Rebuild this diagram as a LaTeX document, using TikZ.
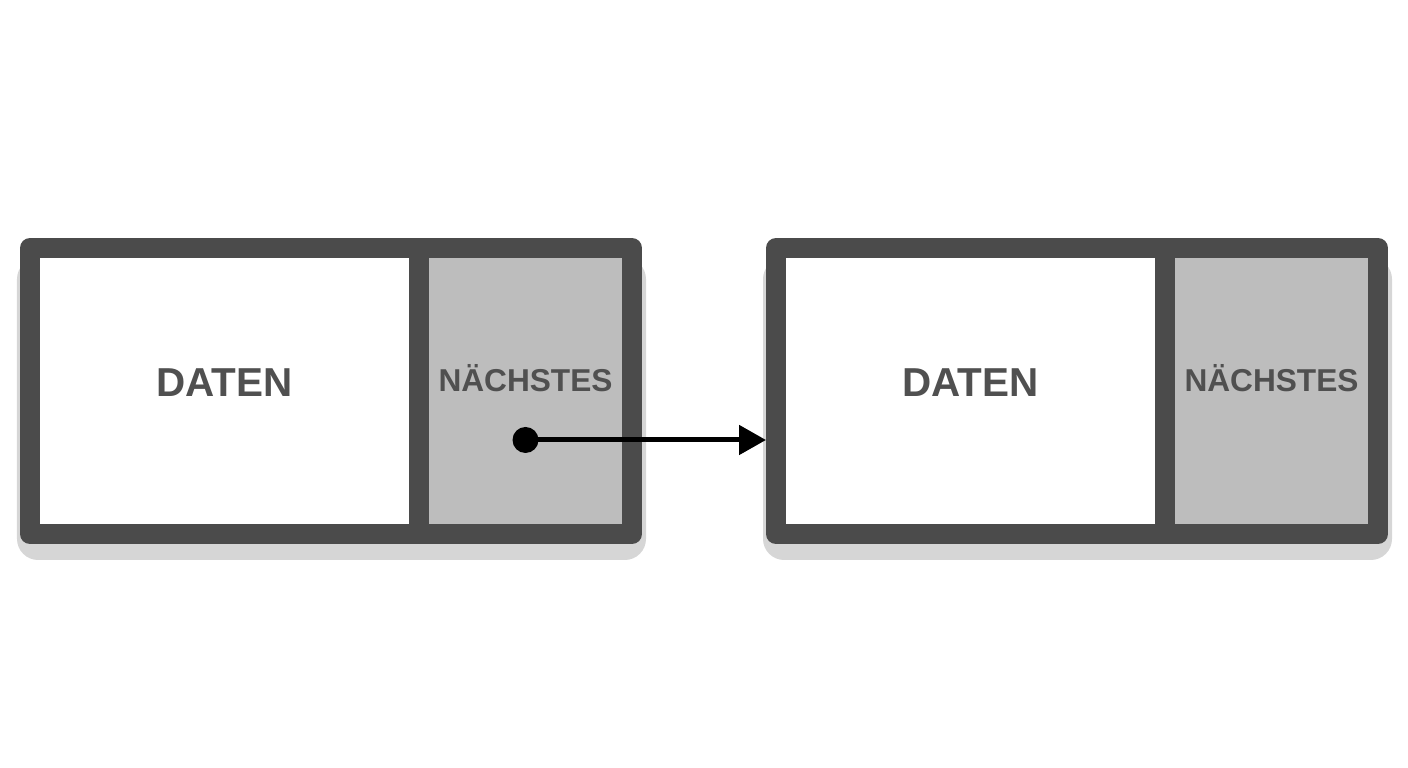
\documentclass[tikz,border=0pt]{standalone}
\usepackage{fontspec}
\setmainfont{Liberation Sans}
\usepackage{tikz}
\usetikzlibrary{matrix,positioning,arrows.meta,backgrounds}
\definecolor{rahmen}{HTML}{4B4B4B}
\definecolor{zeigerfeld}{HTML}{BDBDBD}
\definecolor{schrift}{HTML}{505050}
\definecolor{schatten}{HTML}{D6D6D6}
\tikzstyle{datenfeld} = [minimum width=3.89cm,text depth=1.6mm,fill=white,font=\bfseries\fontsize{11.5}{12}\selectfont]
\tikzstyle{naechstesfeld} = [minimum width=2.13cm,text depth=2.6mm,fill=zeigerfeld,font=\bfseries\fontsize{9}{10}\selectfont]
\tikzstyle{lblock} = [matrix of nodes,ampersand replacement=\&,inner sep=0pt,outer sep=0pt,column sep=0pt,
    column 1/.style={nodes=datenfeld},column 2/.style={nodes=naechstesfeld},nodes={
    outer sep=0pt,inner sep=0pt,anchor=center,minimum height=2.86cm,text=schrift
}]
\tikzstyle{zeiger} = [circle,fill=black,inner sep=0pt,minimum size=0.26cm]
\tikzstyle{zeigerpfeil} = [line width=0.05cm,-{Triangle[length=0.27cm,width=0.29cm]},shorten >=0.1cm]
\newcommand{\lblocktext}[2]{
    {#1} \& {#2} \\
}
\newcommand{\lblockoutline}[1]{
    \begin{scope}[on background layer]
        \fill[schatten,rounded corners=6pt] ([xshift=-0.13cm,yshift=-0.1cm]#1-1-1.north west) rectangle ([xshift=0.14cm,yshift=-0.26cm]#1-1-2.south east);
    \end{scope}
    \draw[rahmen,line width=0.2cm,line join=round] (#1-1-1.north west) rectangle (#1-1-2.south east);
    \draw[rahmen,line width=0.2cm] (#1-1-1.north east) -- (#1-1-1.south east);
}

\begin{document}
\begin{tikzpicture}
	\useasboundingbox (0,0) rectangle (14.08,7.68);

	\node(list1) at (0.30,5.20) [lblock, anchor=north west] {\lblocktext{DATEN}{NÄCHSTES}};
	\lblockoutline{list1};

	\node(list2) [lblock, right=1.44cm of list1] {\lblocktext{DATEN}{NÄCHSTES}};
	\lblockoutline{list2};

	\node(zeiger1) at ([yshift=-4.9mm]list1-1-2.center) [zeiger] {};
	\draw[zeigerpfeil] (zeiger1.center) -- (zeiger1 -| list2.west);
\end{tikzpicture}
\end{document}
